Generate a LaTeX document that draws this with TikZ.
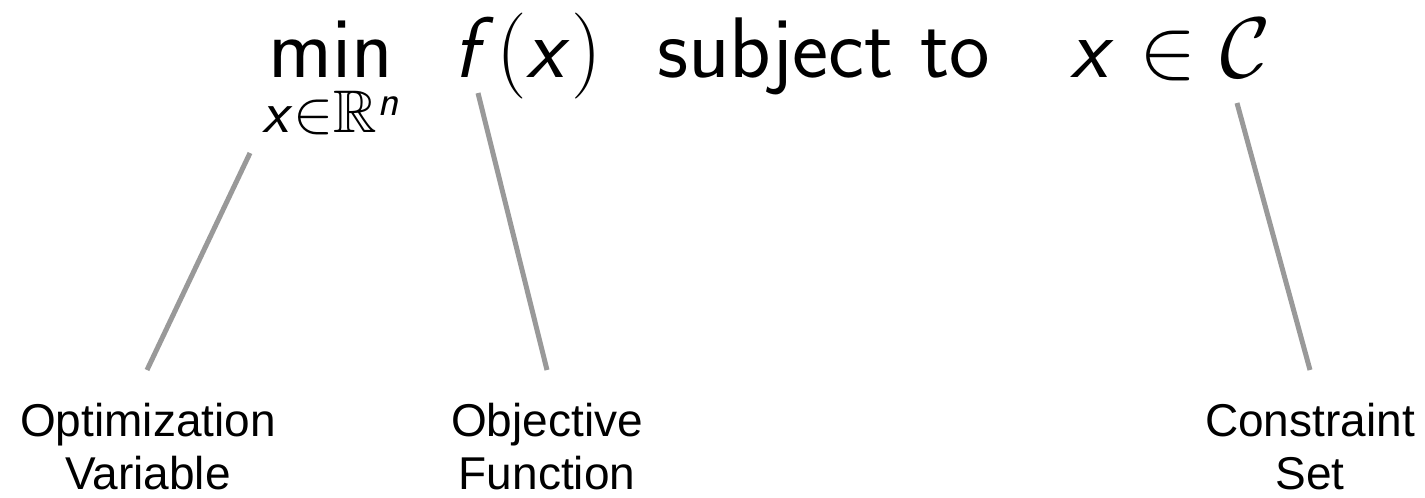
\documentclass[tikz,border=0pt]{standalone}
\usepackage{fix-cm}
\usepackage{amssymb}
\usepackage{fontspec}
\newfontfamily\labelfont{Liberation Sans}
\DeclareFontFamily{U}{msb}{}
\DeclareFontShape{U}{msb}{m}{n}{<-> msbm10}{}
\SetSymbolFont{operators}{normal}{OT1}{cmss}{m}{n}
\SetSymbolFont{letters}{normal}{OT1}{cmss}{m}{sl}
\newcommand{\sfsub}{\fontencoding{OT1}\fontfamily{cmss}\fontseries{m}\fontshape{n}\selectfont}
\newcommand{\sfmin}{\mathop{\hbox{\sfsub min}}}
\begin{document}
\begin{tikzpicture}[x=0.5pt,y=-0.5pt,
  formula/.style={inner sep=0pt, anchor=base west, font=\fontsize{43}{52}\selectfont},
  lbl/.style={inner sep=0pt, align=center, anchor=north, font=\labelfont\fontsize{23}{26.5}\selectfont},
  conn/.style={draw=black!40, line width=2.5pt}]
\useasboundingbox (0,0) rectangle (1425,498);
\node[formula] (mn) at (262,77) {$\sfmin\limits_{x\in\mathbb{R}^n}$};
\node[formula] (fx) at (453,77) {$f(x)$};
\node[formula] (st) at (657,77) {\sfsub subject to};
\node[formula] (xc) at (1070,77) {$x\in\mathcal{C}$};
\node[lbl] (ov) at (148,403) {Optimization\\Variable};
\node[lbl] (of) at (547,403) {Objective\\Function};
\node[lbl] (cs) at (1310,403) {Constraint\\Set};
\coordinate (a1) at (250,153); \coordinate (a2) at (147,370);
\coordinate (b1) at (478,93);  \coordinate (b2) at (547,370);
\coordinate (c1) at (1237,103); \coordinate (c2) at (1310,370);
\draw[conn] (a1) -- (a2);
\draw[conn] (b1) -- (b2);
\draw[conn] (c1) -- (c2);
\end{tikzpicture}
\end{document}
